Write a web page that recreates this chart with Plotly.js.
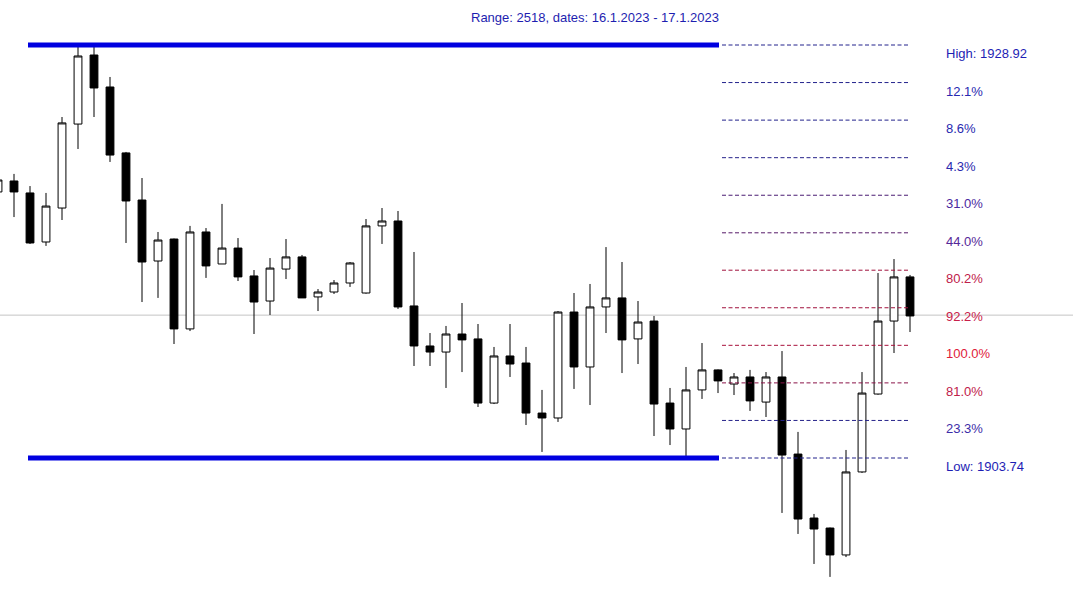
<!DOCTYPE html>
<html>
<head>
<meta charset="utf-8">
<script src="https://cdn.plot.ly/plotly-3.0.1.min.js"></script>
<style>
html,body{margin:0;padding:0;background:#fff;}
#chart{width:1073px;height:601px;}
</style>
</head>
<body>
<div id="chart"></div>
<script>
// Candle data (oldest first; first candle is partly off the left edge)
const opens = [1919.96,1920.63,1919.90,1916.91,1918.98,1924.10,1928.31,1926.36,1922.34,1919.47,
  1915.75,1917.09,1911.61,1917.52,1915.57,1916.54,1914.84,1913.31,1915.26,1916.00,
  1913.56,1913.86,1914.41,1913.80,1917.89,1918.19,1913.01,1910.57,1910.20,1911.30,
  1911.00,1907.09,1909.96,1909.53,1906.48,1906.18,1912.64,1909.29,1912.95,1913.50,
  1911.00,1912.09,1907.09,1905.51,1907.89,1909.11,1908.25,1908.68,1907.15,1908.68,
  1903.98,1900.08,1899.47,1897.83,1902.89,1907.64,1912.09,1914.78];
const highs = [1920.81,1921.06,1920.32,1919.90,1924.53,1928.86,1928.92,1926.97,1922.40,1920.81,
  1917.52,1917.12,1917.89,1917.76,1919.23,1917.15,1915.20,1915.93,1917.09,1916.12,
  1914.04,1914.59,1915.69,1918.31,1918.98,1918.80,1916.30,1911.36,1911.79,1913.19,
  1911.91,1910.51,1911.91,1910.51,1907.89,1912.70,1913.80,1914.35,1916.60,1915.69,
  1913.31,1912.40,1908.01,1909.29,1910.75,1909.14,1908.92,1909.11,1908.98,1910.26,
  1905.33,1900.33,1899.50,1904.23,1908.98,1915.02,1915.87,1914.90];
const lows = [1919.78,1918.43,1916.79,1916.67,1918.25,1922.58,1924.53,1921.79,1916.85,1913.25,
  1913.50,1910.69,1911.48,1914.72,1915.57,1914.53,1911.30,1912.46,1914.65,1913.50,
  1912.70,1913.74,1914.17,1913.76,1916.79,1912.83,1909.35,1909.35,1908.01,1908.98,
  1906.85,1907.03,1908.68,1905.75,1904.11,1905.94,1907.95,1906.97,1911.36,1908.92,
  1909.47,1905.08,1904.53,1903.74,1907.34,1907.70,1907.58,1906.61,1906.24,1900.39,
  1899.11,1897.28,1896.49,1897.70,1902.83,1907.60,1910.14,1911.42];
const closes = [1920.69,1919.96,1916.85,1919.10,1924.17,1928.25,1926.30,1922.21,1919.41,1915.69,
  1917.03,1911.61,1917.52,1915.45,1916.54,1914.78,1913.25,1915.32,1916.00,1913.50,
  1913.86,1914.41,1915.63,1917.89,1918.19,1912.95,1910.57,1910.20,1911.30,1910.94,
  1907.09,1909.96,1909.47,1906.48,1906.18,1912.64,1909.29,1912.95,1913.50,1910.94,
  1912.03,1907.03,1905.51,1907.89,1909.11,1908.44,1908.68,1907.22,1908.68,1903.92,
  1900.02,1899.41,1897.83,1902.89,1907.70,1912.09,1914.78,1912.40];

// Range box
const rangeHigh = 1928.92;
const rangeLow = 1903.74;
const currentPrice = 1912.45;
const titleText = "Range: 2518, dates: 16.1.2023 - 17.1.2023";

// Level lines and their labels
const levelPrices = [1928.92,1926.63,1924.34,1922.05,1919.76,1917.47,1915.19,1912.90,1910.61,1908.32,1906.03,1903.74];
const levelLabels = ["High: 1928.92","12.1%","8.6%","4.3%","31.0%","44.0%","80.2%","92.2%","100.0%","81.0%","23.3%","Low: 1903.74"];
const levelLineColors = ["#22228c","#22228c","#22228c","#26228a","#4a1c72","#561a68","#a0103c","#a0103c","#a8103c","#8a1448","#26228a","#22228c"];
const levelTextColors = ["#1e1eb4","#2828b0","#2828b0","#2a28ae","#4a28a0","#552898","#c0204a","#c8204a","#e01a3a","#c0204a","#3c2ca8","#1e1eb4"];

const W = 1073, H = 601;
const xs = opens.map((_, i) => i - 1);

const trace = {
  type: 'candlestick',
  x: xs, open: opens, high: highs, low: lows, close: closes,
  increasing: {line: {color: '#000000', width: 1}, fillcolor: '#ffffff'},
  decreasing: {line: {color: '#000000', width: 1}, fillcolor: '#000000'},
  whiskerwidth: 0,
  hoverinfo: 'skip'
};

const px = v => v / W;
const shapes = [];
// current price line
shapes.push({type:'line', xref:'paper', yref:'y', x0:0, x1:1, y0:currentPrice, y1:currentPrice,
  line:{color:'#c4c4c4', width:1}, layer:'below'});
// dashed level lines
levelPrices.forEach((p, i) => {
  shapes.push({type:'line', xref:'paper', yref:'y', x0:px(722), x1:px(908), y0:p, y1:p,
    line:{color:levelLineColors[i], width:1, dash:'4px,2.5px'}});
});
// thick blue range lines
[rangeHigh, rangeLow].forEach(p => {
  shapes.push({type:'line', xref:'paper', yref:'y', x0:px(28), x1:px(719), y0:p, y1:p,
    line:{color:'#0000e0', width:5}});
});

const fontFam = 'Liberation Sans, Arial, sans-serif';
const annotations = [];
annotations.push({xref:'paper', yref:'paper', x:px(594.5), y:1 - 18 / H, text:titleText, showarrow:false,
  xanchor:'center', yanchor:'middle', font:{family:fontFam, size:13, color:'#1e1eb0'}});
levelPrices.forEach((p, i) => {
  annotations.push({xref:'paper', yref:'y', x:px(944), y:p, yshift:-8.5, text:levelLabels[i], showarrow:false,
    xanchor:'left', yanchor:'middle', font:{family:fontFam, size:13, color:levelTextColors[i]}});
});

// pixel mapping: candle i at x = 14 + 16*i ; price 1928.92 at y=45, 1903.74 at y=458
const perPx = (rangeHigh - rangeLow) / 413;
const yTop = rangeHigh + 45 * perPx;
const yBot = rangeHigh - (H - 45) * perPx;

const layout = {
  width: W, height: H,
  margin: {l:0, r:0, t:0, b:0, pad:0},
  paper_bgcolor: '#ffffff', plot_bgcolor: '#ffffff',
  showlegend: false,
  xaxis: {range: [(0 - 14) / 16, (W - 14) / 16], visible: false, rangeslider: {visible: false}, fixedrange: true},
  yaxis: {range: [yBot, yTop], visible: false, fixedrange: true},
  shapes: shapes,
  annotations: annotations
};

Plotly.newPlot('chart', [trace], layout, {staticPlot: true, displayModeBar: false});
</script>
</body>
</html>
